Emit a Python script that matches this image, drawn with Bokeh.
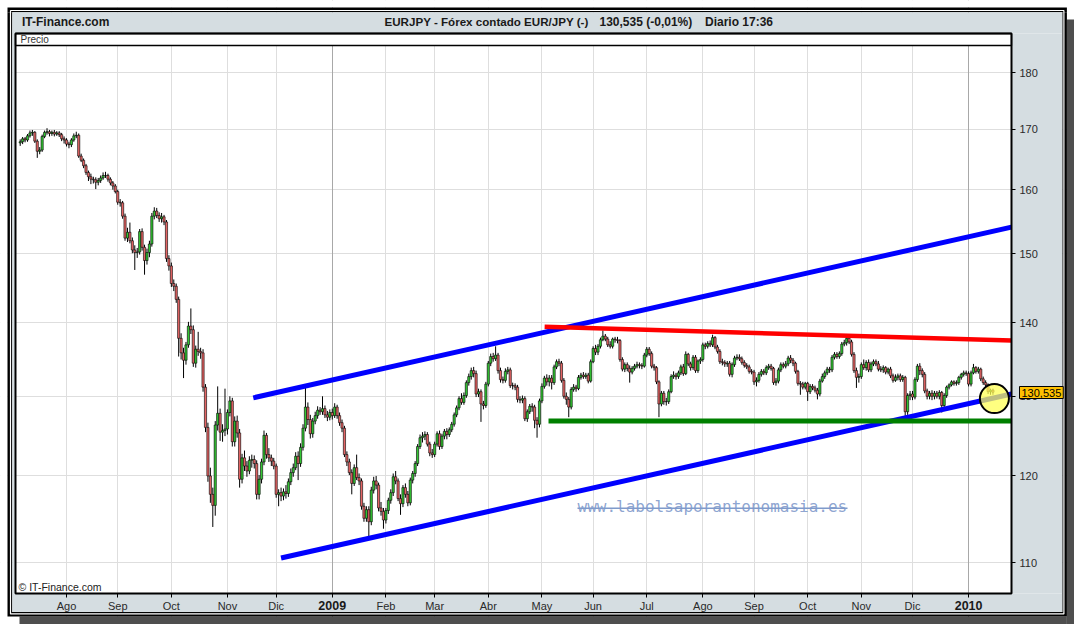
import math
import pandas as pd
from bokeh.plotting import figure
from bokeh.models import (Range1d, FixedTicker, Label, BoxAnnotation, Grid, ColumnDataSource,
                          LinearAxis, LogAxis)
from bokeh.embed import file_html
from bokeh.resources import INLINE

# ---------------- data (EUR/JPY daily candles) ----------------
start_date = "2008-07-07"

opens = [
    167.7, 167.9, 168.4, 168.2, 168.9,
    169.4, 169.5, 168.0, 166.3, 166.5,
    168.8, 169.5, 169.6, 169.3, 169.5,
    169.2, 169.4, 169.1, 168.4, 168.2,
    167.5, 167.4, 168.2, 168.9, 169.0,
    165.5, 164.8, 163.9, 162.8, 162.1,
    161.7, 161.6, 161.2, 161.5, 161.9,
    162.3, 162.3, 161.7, 161.1, 160.6,
    159.7, 158.0, 157.9, 155.8, 152.4,
    153.3, 152.0, 150.6, 150.2, 150.3,
    153.4, 151.0, 149.0, 150.2, 151.5,
    155.8, 156.6, 155.9, 155.4, 155.7,
    154.9, 149.3, 148.2, 145.6, 145.2,
    143.3, 137.8, 135.8, 134.8, 136.9,
    139.5, 139.0, 134.4, 136.3, 136.0,
    135.8, 131.2, 126.0, 120.0, 117.8,
    116.5, 126.3, 127.8, 125.4, 125.6,
    125.8, 127.9, 129.4, 124.2, 126.8,
    125.3, 119.6, 122.2, 121.2, 120.6,
    121.9, 122.0, 121.5, 117.8, 119.6,
    121.7, 125.0, 122.6, 122.2, 121.8,
    121.2, 117.8, 118.0, 117.6, 118.1,
    117.9, 119.3, 120.4, 121.0, 122.4,
    121.5, 123.5, 125.9, 128.6, 127.0,
    125.2, 126.8, 127.5, 128.2, 128.0,
    128.4, 127.6, 127.3, 127.9, 127.5,
    128.6, 127.5, 126.6, 125.9, 122.6,
    121.7, 120.4, 119.1, 121.0, 119.8,
    119.4, 116.4, 115.0, 116.0, 114.6,
    118.3, 119.4, 118.9, 116.2, 115.8,
    114.8, 115.9, 117.1, 118.0, 119.9,
    119.4, 117.3, 116.7, 118.6, 117.8,
    116.8, 119.5, 120.3, 121.5, 123.6,
    124.7, 124.9, 125.1, 123.9, 122.8,
    122.6, 123.9, 125.2, 123.6, 124.9,
    125.5, 125.1, 125.7, 126.4, 127.6,
    128.5, 129.7, 129.2, 130.1, 131.8,
    132.6, 133.4, 133.0, 130.3, 130.6,
    129.0, 128.8, 131.6, 134.4, 135.3,
    135.0, 135.5, 133.4, 132.2, 132.1,
    133.3, 133.5, 131.4, 131.4, 131.2,
    129.6, 129.5, 129.7, 127.1, 128.0,
    128.7, 128.6, 126.9, 126.4, 129.4,
    131.3, 132.4, 131.9, 132.4, 131.8,
    133.9, 134.6, 134.4, 132.1, 130.0,
    129.6, 128.6, 130.9, 131.2, 131.0,
    132.5, 132.8, 132.6, 132.8, 132.0,
    134.6, 136.4, 135.9, 136.7, 137.6,
    138.1, 137.7, 136.9, 136.7, 137.7,
    137.6, 137.5, 134.9, 133.6, 134.2,
    133.7, 133.2, 133.7, 134.0, 134.2,
    134.1, 134.0, 135.5, 136.3, 135.7,
    134.0, 133.8, 131.9, 129.0, 130.4,
    129.3, 129.3, 130.6, 132.6, 132.8,
    132.6, 133.1, 133.9, 133.0, 135.6,
    134.3, 133.8, 135.2, 133.4, 134.7,
    134.9, 136.9, 136.7, 137.1, 136.9,
    137.9, 136.6, 136.0, 134.6, 134.5,
    134.3, 134.4, 132.9, 134.2, 135.1,
    135.2, 135.0, 134.5, 134.1, 133.9,
    133.3, 133.2, 131.9, 132.1, 132.9,
    133.3, 133.1, 133.8, 134.0, 133.7,
    131.8, 132.0, 133.5, 134.2, 134.0,
    134.3, 135.1, 134.8, 134.4, 133.3,
    131.7, 131.6, 131.2, 131.7, 130.6,
    131.3, 131.1, 130.8, 130.3, 132.0,
    132.6, 133.1, 133.6, 133.5, 135.2,
    135.6, 135.3, 135.7, 137.0, 137.2,
    137.8, 137.3, 135.6, 133.4, 132.5,
    132.6, 134.2, 133.8, 134.5, 133.5,
    134.3, 134.6, 134.3, 133.6, 133.5,
    133.8, 133.2, 133.6, 132.7, 132.1,
    132.5, 132.7, 132.2, 132.5, 128.0,
    130.1, 130.3, 129.9, 132.2, 134.0,
    133.4, 132.9, 130.7, 130.0, 130.4,
    130.0, 130.4, 130.0, 130.5, 128.8,
    130.1, 131.2, 131.5, 131.9, 131.7,
    131.8, 132.5, 132.9, 133.1, 133.0,
    131.6, 133.1, 133.8, 133.3, 133.6,
    132.3, 131.8, 131.5, 130.6, 130.8,
]

highs = [
    168.3, 168.7, 168.7, 169.2, 169.8,
    169.9, 169.7, 168.3, 167.0, 169.1,
    169.8, 170.2, 169.9, 169.8, 169.9,
    169.7, 169.7, 169.4, 168.8, 168.5,
    167.9, 168.5, 169.3, 169.6, 169.3,
    165.9, 165.1, 164.2, 163.1, 162.6,
    162.1, 162.0, 161.9, 162.3, 162.8,
    162.9, 162.6, 162.0, 161.4, 160.9,
    160.0, 158.5, 158.2, 156.2, 154.0,
    154.8, 152.5, 151.3, 150.9, 153.8,
    153.9, 151.4, 150.8, 152.0, 156.3,
    157.2, 157.1, 156.4, 156.3, 156.0,
    155.2, 149.8, 148.7, 146.2, 145.6,
    143.7, 138.5, 136.5, 137.3, 140.1,
    142.0, 139.6, 136.8, 138.7, 136.5,
    136.3, 131.6, 126.6, 121.0, 118.6,
    126.8, 131.3, 128.4, 126.4, 131.0,
    128.3, 130.0, 129.8, 127.4, 127.5,
    125.8, 122.7, 123.1, 121.8, 122.4,
    122.6, 122.5, 121.9, 120.1, 122.1,
    125.6, 125.3, 123.4, 122.6, 122.2,
    121.5, 118.4, 118.6, 118.5, 118.9,
    119.7, 120.9, 121.5, 122.9, 123.0,
    124.0, 126.4, 131.1, 129.2, 127.6,
    127.2, 128.0, 128.7, 128.6, 130.0,
    128.8, 128.1, 128.3, 128.4, 129.1,
    128.9, 127.9, 127.0, 126.2, 123.0,
    122.1, 120.8, 121.4, 122.6, 120.3,
    119.7, 116.8, 116.4, 116.4, 118.7,
    119.9, 120.0, 119.2, 116.9, 116.2,
    116.2, 117.4, 118.4, 120.3, 120.6,
    119.7, 117.8, 118.9, 119.1, 118.2,
    119.8, 120.6, 121.8, 123.9, 125.1,
    125.4, 125.5, 125.4, 124.2, 123.3,
    124.2, 125.5, 125.6, 125.2, 125.8,
    125.9, 126.0, 126.7, 127.9, 128.8,
    130.0, 130.4, 130.5, 132.1, 133.0,
    133.8, 133.9, 133.4, 131.0, 130.9,
    129.4, 131.9, 134.7, 135.7, 135.8,
    136.7, 135.8, 133.8, 132.6, 133.7,
    133.9, 133.8, 131.8, 131.7, 131.5,
    130.0, 130.1, 130.0, 128.3, 129.0,
    129.1, 128.9, 127.3, 129.7, 131.7,
    132.7, 132.9, 132.8, 132.8, 134.2,
    134.9, 135.0, 134.7, 132.4, 130.5,
    129.9, 131.2, 131.6, 131.5, 132.8,
    133.1, 133.2, 133.1, 133.1, 134.9,
    136.7, 136.9, 137.0, 137.9, 138.9,
    138.4, 138.0, 137.4, 137.9, 138.0,
    138.0, 137.7, 135.2, 134.5, 134.5,
    134.1, 134.0, 134.3, 134.6, 134.5,
    134.4, 135.8, 136.6, 136.6, 136.0,
    134.3, 134.0, 132.1, 130.7, 130.7,
    129.8, 130.9, 132.9, 133.3, 133.1,
    133.4, 134.2, 134.3, 136.0, 135.8,
    134.6, 135.5, 135.5, 134.9, 135.2,
    137.2, 137.2, 137.4, 137.5, 138.3,
    138.1, 136.9, 136.3, 135.0, 134.8,
    134.7, 134.7, 134.5, 135.4, 135.6,
    135.6, 135.3, 134.8, 134.4, 134.2,
    133.6, 133.5, 132.5, 133.2, 133.6,
    133.6, 134.1, 134.3, 134.3, 133.9,
    132.4, 133.8, 134.5, 134.5, 134.7,
    135.4, 135.5, 135.1, 134.6, 133.5,
    132.0, 131.9, 131.9, 131.9, 131.6,
    131.6, 131.4, 131.1, 132.3, 133.0,
    133.4, 133.9, 133.9, 135.5, 135.9,
    135.9, 136.0, 137.3, 137.6, 138.4,
    138.1, 137.6, 135.9, 133.8, 133.0,
    134.5, 134.9, 134.8, 134.9, 134.6,
    134.9, 134.9, 134.7, 134.0, 134.1,
    134.0, 133.8, 133.9, 133.0, 132.9,
    133.0, 133.0, 132.8, 132.7, 130.4,
    130.7, 130.7, 132.5, 134.3, 134.4,
    133.7, 133.2, 131.0, 130.7, 130.8,
    130.7, 130.7, 130.8, 130.7, 130.4,
    131.4, 131.7, 132.1, 132.1, 132.1,
    132.7, 133.1, 133.4, 133.4, 133.3,
    133.4, 134.3, 134.0, 133.9, 133.8,
    132.6, 132.1, 131.7, 131.0, 131.0,
]

lows = [
    167.2, 167.5, 167.8, 167.9, 168.6,
    168.9, 167.7, 165.2, 165.8, 166.2,
    168.5, 169.1, 168.8, 168.9, 168.8,
    168.9, 168.7, 168.0, 167.6, 167.1,
    166.8, 167.0, 167.9, 168.5, 165.2,
    164.5, 163.5, 162.4, 161.4, 160.9,
    161.0, 160.1, 160.7, 161.1, 161.6,
    161.9, 161.3, 160.7, 160.0, 159.4,
    157.6, 157.3, 155.4, 152.0, 151.8,
    151.6, 150.1, 147.6, 149.4, 149.9,
    150.5, 146.9, 148.4, 149.5, 151.1,
    155.3, 155.5, 154.9, 154.8, 154.4,
    148.8, 147.5, 145.1, 144.5, 142.8,
    135.3, 134.9, 132.4, 134.2, 136.5,
    138.4, 133.9, 133.8, 135.4, 135.0,
    130.6, 125.4, 119.3, 116.8, 114.0,
    115.3, 125.6, 124.3, 124.2, 124.9,
    125.1, 127.4, 123.6, 123.6, 124.7,
    118.6, 119.1, 120.6, 119.9, 120.2,
    121.0, 120.9, 117.2, 117.2, 119.1,
    121.3, 122.1, 121.7, 121.2, 120.8,
    117.4, 116.4, 117.0, 117.1, 117.3,
    117.5, 118.9, 119.9, 120.7, 119.5,
    121.1, 123.1, 125.5, 126.3, 124.6,
    124.7, 126.4, 127.1, 127.6, 127.6,
    127.2, 126.8, 126.9, 127.0, 127.2,
    127.1, 126.2, 125.4, 122.3, 121.2,
    120.1, 117.8, 118.8, 119.5, 118.9,
    116.0, 114.6, 114.6, 112.7, 114.2,
    117.9, 118.4, 115.8, 115.3, 113.8,
    114.4, 115.5, 116.7, 117.6, 119.0,
    117.0, 115.4, 116.3, 117.4, 116.4,
    116.5, 119.1, 119.9, 121.2, 123.3,
    124.1, 124.4, 123.6, 122.4, 122.2,
    122.3, 123.6, 123.2, 123.3, 124.5,
    124.5, 124.8, 125.4, 126.1, 127.3,
    128.2, 128.9, 128.9, 129.8, 131.4,
    132.2, 132.5, 129.9, 129.9, 126.7,
    128.3, 128.5, 131.3, 134.0, 134.6,
    134.7, 133.0, 131.8, 131.7, 131.8,
    132.9, 131.1, 130.9, 130.8, 129.2,
    129.1, 129.1, 126.8, 126.7, 127.7,
    128.0, 125.9, 124.7, 126.0, 129.1,
    131.0, 131.4, 131.3, 130.9, 131.5,
    133.6, 134.0, 131.8, 129.7, 128.9,
    127.3, 128.3, 130.6, 130.6, 130.8,
    132.2, 132.3, 132.3, 131.7, 131.8,
    134.4, 135.5, 135.5, 136.4, 137.4,
    137.4, 136.6, 136.4, 136.4, 137.2,
    137.1, 134.6, 133.3, 133.2, 133.3,
    131.8, 132.9, 133.4, 133.7, 133.7,
    133.6, 133.8, 135.2, 135.4, 133.7,
    133.4, 131.6, 127.3, 128.7, 128.9,
    128.8, 129.0, 130.4, 132.3, 132.2,
    132.3, 132.8, 132.7, 132.8, 134.0,
    133.4, 133.5, 133.1, 133.1, 134.3,
    134.6, 136.3, 136.4, 136.6, 136.6,
    136.3, 135.7, 134.3, 134.1, 133.9,
    133.9, 132.6, 132.5, 133.9, 134.8,
    134.7, 134.2, 133.8, 133.6, 133.0,
    132.9, 131.5, 131.3, 131.8, 132.6,
    132.8, 132.8, 133.5, 133.4, 131.5,
    131.4, 131.7, 133.2, 133.7, 133.7,
    134.0, 134.4, 134.0, 133.0, 131.4,
    130.2, 130.9, 130.9, 129.4, 130.3,
    130.8, 130.5, 129.6, 130.0, 131.8,
    132.3, 132.8, 133.1, 133.2, 134.9,
    135.0, 135.0, 135.4, 136.7, 136.8,
    137.0, 135.3, 133.1, 131.1, 131.8,
    132.3, 133.5, 133.4, 133.2, 133.2,
    134.0, 134.0, 133.3, 133.2, 133.1,
    132.9, 132.9, 132.4, 131.8, 131.9,
    132.1, 131.9, 131.9, 127.3, 127.6,
    129.5, 129.5, 129.6, 131.9, 132.8,
    132.5, 130.4, 129.6, 129.6, 129.5,
    129.6, 129.7, 129.6, 127.9, 128.5,
    129.8, 130.9, 131.3, 131.4, 131.4,
    131.5, 132.2, 132.6, 132.7, 131.3,
    131.3, 132.9, 133.0, 133.0, 132.0,
    131.5, 131.2, 130.3, 130.2, 130.2,
]

closes = [
    167.9, 168.4, 168.2, 168.9, 169.4,
    169.5, 168.0, 166.3, 166.5, 168.8,
    169.5, 169.6, 169.3, 169.5, 169.2,
    169.4, 169.1, 168.4, 168.2, 167.5,
    167.4, 168.2, 168.9, 169.0, 165.5,
    164.8, 163.9, 162.8, 162.1, 161.7,
    161.6, 161.2, 161.5, 161.9, 162.3,
    162.3, 161.7, 161.1, 160.6, 159.7,
    158.0, 157.9, 155.8, 152.4, 153.3,
    152.0, 150.6, 150.2, 150.3, 153.4,
    151.0, 149.0, 150.2, 151.5, 155.8,
    156.6, 155.9, 155.4, 155.7, 154.9,
    149.3, 148.2, 145.6, 145.2, 143.3,
    137.8, 135.8, 134.8, 136.9, 139.5,
    139.0, 134.4, 136.3, 136.0, 135.8,
    131.2, 126.0, 120.0, 117.8, 116.5,
    126.3, 127.8, 125.4, 125.6, 125.8,
    127.9, 129.4, 124.2, 126.8, 125.3,
    119.6, 122.2, 121.2, 120.6, 121.9,
    122.0, 121.5, 117.8, 119.6, 121.7,
    125.0, 122.6, 122.2, 121.8, 121.2,
    117.8, 118.0, 117.6, 118.1, 117.9,
    119.3, 120.4, 121.0, 122.4, 121.5,
    123.5, 125.9, 128.6, 127.0, 125.2,
    126.8, 127.5, 128.2, 128.0, 128.4,
    127.6, 127.3, 127.9, 127.5, 128.6,
    127.5, 126.6, 125.9, 122.6, 121.7,
    120.4, 119.1, 121.0, 119.8, 119.4,
    116.4, 115.0, 116.0, 114.6, 118.3,
    119.4, 118.9, 116.2, 115.8, 114.8,
    115.9, 117.1, 118.0, 119.9, 119.4,
    117.3, 116.7, 118.6, 117.8, 116.8,
    119.5, 120.3, 121.5, 123.6, 124.7,
    124.9, 125.1, 123.9, 122.8, 122.6,
    123.9, 125.2, 123.6, 124.9, 125.5,
    125.1, 125.7, 126.4, 127.6, 128.5,
    129.7, 129.2, 130.1, 131.8, 132.6,
    133.4, 133.0, 130.3, 130.6, 129.0,
    128.8, 131.6, 134.4, 135.3, 135.0,
    135.5, 133.4, 132.2, 132.1, 133.3,
    133.5, 131.4, 131.4, 131.2, 129.6,
    129.5, 129.7, 127.1, 128.0, 128.7,
    128.6, 126.9, 126.4, 129.4, 131.3,
    132.4, 131.9, 132.4, 131.8, 133.9,
    134.6, 134.4, 132.1, 130.0, 129.6,
    128.6, 130.9, 131.2, 131.0, 132.5,
    132.8, 132.6, 132.8, 132.0, 134.6,
    136.4, 135.9, 136.7, 137.6, 138.1,
    137.7, 136.9, 136.7, 137.7, 137.6,
    137.5, 134.9, 133.6, 134.2, 133.7,
    133.2, 133.7, 134.0, 134.2, 134.1,
    134.0, 135.5, 136.3, 135.7, 134.0,
    133.8, 131.9, 129.0, 130.4, 129.3,
    129.3, 130.6, 132.6, 132.8, 132.6,
    133.1, 133.9, 133.0, 135.6, 134.3,
    133.8, 135.2, 133.4, 134.7, 134.9,
    136.9, 136.7, 137.1, 136.9, 137.9,
    136.6, 136.0, 134.6, 134.5, 134.3,
    134.4, 132.9, 134.2, 135.1, 135.2,
    135.0, 134.5, 134.1, 133.9, 133.3,
    133.2, 131.9, 132.1, 132.9, 133.3,
    133.1, 133.8, 134.0, 133.7, 131.8,
    132.0, 133.5, 134.2, 134.0, 134.3,
    135.1, 134.8, 134.4, 133.3, 131.7,
    131.6, 131.2, 131.7, 130.6, 131.3,
    131.1, 130.8, 130.3, 132.0, 132.6,
    133.1, 133.6, 133.5, 135.2, 135.6,
    135.3, 135.7, 137.0, 137.2, 137.8,
    137.3, 135.6, 133.4, 132.5, 132.6,
    134.2, 133.8, 134.5, 133.5, 134.3,
    134.6, 134.3, 133.6, 133.5, 133.8,
    133.2, 133.6, 132.7, 132.1, 132.5,
    132.7, 132.2, 132.5, 128.0, 130.1,
    130.3, 129.9, 132.2, 134.0, 133.4,
    132.9, 130.7, 130.0, 130.4, 130.0,
    130.4, 130.0, 130.5, 128.8, 130.1,
    131.2, 131.5, 131.9, 131.7, 131.8,
    132.5, 132.9, 133.1, 133.0, 131.6,
    133.1, 133.8, 133.3, 133.6, 132.3,
    131.8, 131.5, 130.6, 130.8, 130.535,
]

month_names = ["Ene", "Feb", "Mar", "Abr", "May", "Jun",
               "Jul", "Ago", "Sep", "Oct", "Nov", "Dic"]
y_ticks = [110, 120, 130, 140, 150, 160, 170, 180]
y_tick_labels = ["110", "120", "130", "140", "150", "160", "170", "180"]

# drawn lines: (bar index, price) end points
upper_channel_x = [95.6, 406.6]
upper_channel_y = [129.8, 154.1]
lower_channel_x = [107.0, 406.6]
lower_channel_y = [110.5, 130.3]
resistance_x = [215.1, 406.6]
resistance_y = [139.4, 137.5]
support_x = [216.7, 406.6]
support_y = [126.8, 126.8]
highlight_x = [399.6]
highlight_y = [129.7]

header_left = "IT-Finance.com"
header_parts = ["EURJPY - Fórex contado EUR/JPY (-)", "130,535 (-0,01%)", "Diario  17:36"]
last_price_text = "130,535"
watermark = "www.labolsaporantonomasia.es"

# ---------------- derived ----------------
n = len(closes)
idx = list(range(n))
dates = pd.bdate_range(start_date, periods=n)
tick_idx, tick_txt, year_idx, year_txt = [], [], [], []
for i in range(1, n):
    if dates[i].month != dates[i - 1].month:
        tick_idx.append(i)
        if dates[i].month == 1:
            tick_txt.append("")
            year_idx.append(i)
            year_txt.append(str(dates[i].year))
        else:
            tick_txt.append(month_names[dates[i].month - 1])

UP, DOWN = "#33c633", "#e46464"
src = ColumnDataSource(dict(
    x=idx, o=opens, h=highs, l=lows, c=closes,
    top=[max(a, b) for a, b in zip(opens, closes)],
    bot=[min(a, b) for a, b in zip(opens, closes)],
    col=[UP if c >= o else DOWN for o, c in zip(opens, closes)],
))

# ---------------- geometry (page pixels) ----------------
W, H, PAGE = 1074, 624, 8
PX0, PX1, PY0, PY1 = 23, 1019, 41, 601      # price panel
BAR0_X, BAR_PX = 27.7, 2.438                # page x of bar 0, pixels per bar
P_REF, P_REF_Y, LOG_PX = 180.0, 80.0, 995.0  # price 180 at page y 80; px per ln unit


def kx(X):
    return (X - BAR0_X) / BAR_PX


def py(Y):
    return P_REF * math.exp((P_REF_Y - Y) / LOG_PX)


PANEL = "#d5dde1"
FONT = "Liberation Sans"

p = figure(width=W, height=H, output_backend="svg", toolbar_location=None, title=None,
           x_range=Range1d(kx(PAGE), kx(PAGE + W)), y_range=Range1d(py(PAGE + H), py(PAGE)),
           y_axis_type="log", x_axis_location=None, y_axis_location=None,
           min_border_left=0, min_border_right=0, min_border_top=0, min_border_bottom=0)
p.border_fill_color = "white"
p.background_fill_color = "white"
p.outline_line_color = None

# grids (drawn first, overflow is covered by the panel boxes)
p.xgrid.ticker = FixedTicker(ticks=tick_idx)
p.xgrid.grid_line_color = "#dedede"
p.ygrid.ticker = FixedTicker(ticks=y_ticks)
p.ygrid.grid_line_color = "#dedede"
p.add_layout(Grid(dimension=0, ticker=FixedTicker(ticks=year_idx),
                  grid_line_color="#a8a8a8", grid_line_width=1))


def sx(X):
    return X - PAGE


def sy(Y):
    return PAGE + H - Y


def box(x0, y0, x1, y1, fill=None, line=None, lw=1, level="underlay"):
    p.add_layout(BoxAnnotation(left=sx(x0), right=sx(x1), top=sy(y0), bottom=sy(y1),
                               left_units="screen", right_units="screen",
                               top_units="screen", bottom_units="screen",
                               fill_color=fill if fill else "white", fill_alpha=1 if fill else 0,
                               line_color=line if line else "black", line_alpha=1 if line else 0,
                               line_width=lw, level=level))


def label(X, Y, text, size="11px", style="normal", color="#1a1a1a", align="left",
          baseline="middle", font=FONT, **kw):
    p.add_layout(Label(x=sx(X), y=sy(Y), x_units="screen", y_units="screen", text=text,
                       text_font=font, text_font_size=size, text_font_style=style,
                       text_color=color, text_align=align, text_baseline=baseline, **kw))


# page margin + drop shadow
box(8, 8, 1082, 15, fill="white")
box(8, 15, 15, 632, fill="white")
box(1074.4, 15, 1082, 27, fill="white")
box(15, 623.9, 27, 632, fill="white")
box(1074.4, 27, 1082, 632, fill="#4e4e4e")
box(27, 623.9, 1074.4, 632, fill="#4e4e4e")
# frame ring (black with a white line inside)
box(15, 15, 1074.4, 19.8, fill="black")
box(15, 619.6, 1074.4, 623.9, fill="black")
box(15, 19.8, 19.8, 619.6, fill="black")
box(1069.8, 19.8, 1074.4, 619.6, fill="black")
box(18.0, 18.0, 1071.4, 621.4, line="white", lw=1.2)
# grey panel around the price panel
box(19.8, 19.8, 1069.8, PY0, fill=PANEL)
box(19.8, PY1, 1069.8, 619.6, fill=PANEL)
box(19.8, PY0, PX0, PY1, fill=PANEL)
box(PX1, PY0, 1069.8, PY1, fill=PANEL)
# "Precio" strip
box(PX0, PY0, PX1, 53, fill="white", line="black", lw=1.3)

# candles
p.segment(x0="x", y0="l", x1="x", y1="h", source=src, line_color="black", line_width=1)
p.vbar(x="x", width=0.9, top="top", bottom="bot", source=src,
       fill_color="col", line_color="black", line_width=0.6)

# drawn lines
p.line(upper_channel_x, upper_channel_y, line_color="#0000ff", line_width=5)
p.line(lower_channel_x, lower_channel_y, line_color="#0000ff", line_width=5)
p.line(resistance_x, resistance_y, line_color="#ff0000", line_width=4.5)
p.line(support_x, support_y, line_color="#008000", line_width=5)
p.scatter(highlight_x, highlight_y, marker="circle", size=29, fill_color="#ffff55",
          fill_alpha=0.75, line_color="black", line_width=2)

# axes pinned to the edges of the price panel
xa = LinearAxis(fixed_location=py(PY1), ticker=FixedTicker(ticks=tick_idx),
                major_label_overrides={i: t for i, t in zip(tick_idx, tick_txt)})
xa.major_tick_in = 0
xa.major_tick_out = 4
xa.major_tick_line_color = "black"
xa.minor_tick_line_color = None
xa.axis_line_color = None
xa.major_label_standoff = 2
xa.major_label_text_font = FONT
xa.major_label_text_font_size = "11px"
xa.major_label_text_color = "#2a2a2a"
p.add_layout(xa, "below")

ya = LogAxis(fixed_location=kx(PX1), ticker=FixedTicker(ticks=y_ticks),
             major_label_overrides={v: t for v, t in zip(y_ticks, y_tick_labels)})
ya.major_tick_in = 0
ya.major_tick_out = 4
ya.major_tick_line_color = "black"
ya.minor_tick_line_color = None
ya.axis_line_color = None
ya.major_label_standoff = 4
ya.major_label_text_font = FONT
ya.major_label_text_font_size = "11px"
ya.major_label_text_color = "#2a2a2a"
p.add_layout(ya, "right")

# price panel border
box(PX0, PY0, PX1, PY1, line="black", lw=2, level="annotation")

# texts
label(28, 47, "Precio", size="10px", color="#333333")
label(26, 594, "© IT-Finance.com", size="10.5px", color="#222222")
label(29.5, 29, header_left, size="12px", style="bold")
label(392, 29, header_parts[0], size="11.6px", style="bold")
label(607, 29, header_parts[1], size="12px", style="bold")
label(712.5, 29, header_parts[2], size="12px", style="bold")

for k, t in zip(year_idx, year_txt):
    p.add_layout(Label(x=k, y=sy(613), x_units="data", y_units="screen", text=t,
                       text_font=FONT, text_font_size="12.5px", text_font_style="bold",
                       text_color="#1a1a1a", text_align="center", text_baseline="middle"))

label(1027, 400, last_price_text, size="11px", color="black",
      background_fill_color="#ffc000", border_line_color="black", border_line_width=1, padding=2)

WM = "#7f9acb"
label(585, 513.5, watermark, size="16px", color=WM, baseline="alphabetic",
      font="DejaVu Sans Mono", text_alpha=0.9)
box(585, 515, 855, 516.4, fill=WM, level="annotation")

open("out.html", "w").write(file_html(p, INLINE))
